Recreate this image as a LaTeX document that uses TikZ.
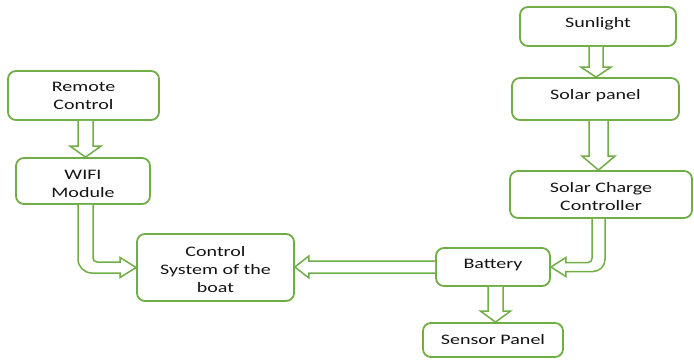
\documentclass[tikz,border=0pt]{standalone}
\usepackage{fontspec}
\setmainfont[FakeStretch=1.38]{Carlito}
\usetikzlibrary{calc}
\definecolor{leaf}{RGB}{112,173,71}
\definecolor{ink}{RGB}{20,20,20}
\tikzset{
  box/.style={draw=leaf, line width=1.8pt, rounded corners=8pt, inner sep=0pt},
  lbl/.style={align=center, inner sep=0pt, text=ink, font=\fontsize{14.5}{18}\selectfont},
  blk/.style={draw=leaf, line width=1.5pt, line join=miter, fill=white},
}
% downward block arrow: start, end, shaft half width, head half width, head length
\newcommand\vblk[5]{%
  \draw[blk] let \p1=(#1), \p2=(#2) in
    (\x1-#3,\y1) -- (\x1-#3,\y2+#5) -- (\x1-#4,\y2+#5) -- (\x1,\y2)
    -- (\x1+#4,\y2+#5) -- (\x1+#3,\y2+#5) -- (\x1+#3,\y1);}
% leftward block arrow
\newcommand\hblk[5]{%
  \draw[blk] let \p1=(#1), \p2=(#2) in
    (\x1,\y1+#3) -- (\x2+#5,\y1+#3) -- (\x2+#5,\y1+#4) -- (\x2,\y1)
    -- (\x2+#5,\y1-#4) -- (\x2+#5,\y1-#3) -- (\x1,\y1-#3);}
\begin{document}
\begin{tikzpicture}[x=1pt,y=-1pt]
\useasboundingbox (0,0) rectangle (694,362);

% boxes
\node[box, minimum width=151pt, minimum height=49pt] (rc)   at (83.5,95.5) {};
\node[box, minimum width=134pt, minimum height=46pt] (wifi) at (83,181)   {};
\node[box, minimum width=157pt, minimum height=67pt] (ctrl) at (215.5,267.5) {};
\node[box, minimum width=156pt, minimum height=39pt] (sun)  at (598,26.5)  {};
\node[box, minimum width=167pt, minimum height=42pt] (sp)   at (595.5,99)  {};
\node[box, minimum width=182pt, minimum height=47pt] (scc)  at (601,194.5) {};
\node[box, minimum width=114pt, minimum height=38pt] (bat)  at (493,267)   {};
\node[box, minimum width=140pt, minimum height=34pt] (sens) at (493,340)   {};

% box texts
\node[lbl] (rcT)   at ($(rc)+(0,0.5)$)   {Remote\\Control};
\node[lbl] (wifiT) at ($(wifi)+(0,3)$)   {WIFI\\Module};
\node[lbl] (ctrlT) at ($(ctrl)+(0,2)$)   {Control\\System of the\\boat};
\node[lbl] (sunT)  at ($(sun)+(0,-3)$)   {Sunlight};
\node[lbl] (spT)   at ($(sp)+(0,-3)$)    {Solar panel};
\node[lbl] (sccT)  at ($(scc)+(0,2)$)    {Solar Charge\\Controller};
\node[lbl] (batT)  at ($(bat)+(0,-2)$)   {Battery};
\node[lbl] (sensT) at ($(sens)+(0,0)$)   {Sensor Panel};

% straight block arrows
\vblk{$(rc.south)+(2,0)$}{wifi.north}{7.5pt}{15.5pt}{11pt}
\vblk{$(sun.south)+(-2,0)$}{sp.north}{7pt}{15pt}{10pt}
\vblk{$(sp.south)+(3,0)$}{scc.north}{9.5pt}{16.5pt}{14pt}
\vblk{$(bat.south)+(2.5,0)$}{sens.north}{7.5pt}{15pt}{11pt}
\hblk{bat.west}{ctrl.east}{6pt}{11pt}{14pt}

% WIFI module to control system: bent arrow
\draw[blk] let \p1=($(wifi.south)+(2.5,0)$), \p2=(ctrl.west) in
  (\x1-7.5pt,\y1) [rounded corners=14pt] -- (\x1-7.5pt,\y2-5.5pt)
  [sharp corners] -- (\x2-16pt,\y2-5.5pt) -- (\x2-16pt,\y2-10pt) -- (\x2,\y2)
  -- (\x2-16pt,\y2+10pt) -- (\x2-16pt,\y2+5.5pt)
  [rounded corners=4pt] -- (\x1+7.5pt,\y2+5.5pt) [sharp corners] -- (\x1+7.5pt,\y1);

% charge controller to battery: bent arrow
\draw[blk] let \p1=($(scc.south)+(-2.5,0)$), \p2=(bat.east) in
  (\x1+6.5pt,\y1) [rounded corners=12pt] -- (\x1+6.5pt,\y2-4.5pt)
  [sharp corners] -- (\x2+15pt,\y2-4.5pt) -- (\x2+15pt,\y2-9.5pt) -- (\x2,\y2)
  -- (\x2+15pt,\y2+9.5pt) -- (\x2+15pt,\y2+4.5pt)
  [rounded corners=4pt] -- (\x1-6.5pt,\y2+4.5pt) [sharp corners] -- (\x1-6.5pt,\y1);
\end{tikzpicture}
\end{document}
